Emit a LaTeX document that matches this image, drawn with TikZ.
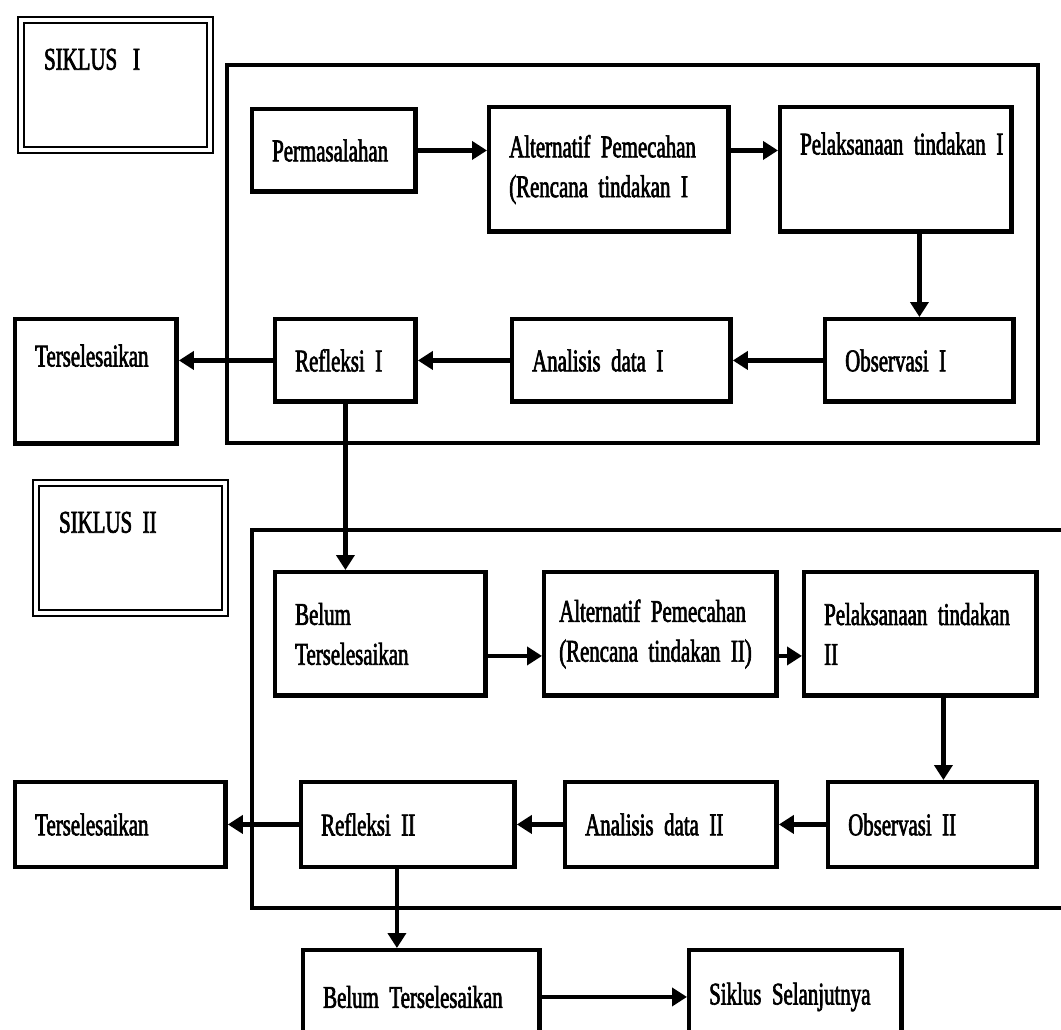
\documentclass[tikz,border=0pt]{standalone}
\usepackage{fontspec}
\setmainfont[FakeStretch=0.66,FakeBold=2]{Liberation Serif}
\usetikzlibrary{arrows.meta}
\newcommand\boxfont{\fontsize{18}{22.7}\selectfont\spaceskip=3.5pt plus 1pt minus 1pt\relax}

\begin{document}
\begin{tikzpicture}[x=0.02cm,y=-0.02cm,
  every node/.style={font=\boxfont},
  stage/.style={draw,line width=2.5pt,anchor=north west,inner xsep=0.4cm,inner ysep=0pt,align=left},
  siklus/.style={draw,double,double distance=0.08cm,line width=1.3pt,anchor=north west,inner xsep=0.46cm,inner ysep=0pt,align=left,text width=2.86cm,minimum height=2.6cm},
  frame/.style={line width=2pt},
  flow/.style={line width=2.4pt,-{Triangle[length=0.3cm,width=0.36cm]}}]
\useasboundingbox (0,0) rectangle (1061,1029);

\draw[frame] (227,65) rectangle (1038,443);
\draw[frame] (1070,530) -- (252,530) -- (252,908) -- (1070,908);

\node[siklus] (sik1) at (20,19) {SIKLUS\hspace{9pt}I\\\strut};
\node[siklus] (sik2) at (35,482) {SIKLUS II\\\strut};

\node[stage,text width=2.47cm,minimum height=1.65cm] (perm) at (250,107) {Permasalahan};
\node[stage,text width=3.99cm,minimum height=2.49cm] (alt1) at (487,105) {\mbox{Alternatif Pemecahan}\\\mbox{(Rencana tindakan I}};
\node[stage,text width=3.83cm,minimum height=2.49cm] (pel1) at (778,105) {\mbox{Pelaksanaan tindakan I}\\\strut};

\node[stage,text width=2.43cm,minimum height=2.49cm] (ters1) at (13,317) {Terselesaikan\\\strut};
\node[stage,text width=2.01cm,minimum height=1.65cm] (ref1) at (273,317) {Refleksi I};
\node[stage,text width=3.57cm,minimum height=1.65cm] (ana1) at (510,317) {Analisis data I};
\node[stage,text width=2.97cm,minimum height=1.65cm] (obs1) at (823,317) {Observasi I};

\node[stage,text width=3.41cm,minimum height=2.47cm] (belum1) at (273,570) {Belum\\Terselesaikan};
\node[stage,inner xsep=0.3cm,text width=4.05cm,minimum height=2.47cm] (alt2) at (542,570) {\mbox{Alternatif Pemecahan}\\\mbox{(Rencana tindakan II)}};
\node[stage,text width=3.85cm,minimum height=2.47cm] (pel2) at (802,570) {\mbox{Pelaksanaan tindakan}\\II};

\node[stage,text width=3.41cm,minimum height=1.69cm] (ters2) at (13,780) {Terselesaikan};
\node[stage,text width=3.47cm,minimum height=1.69cm] (ref2) at (299,780) {Refleksi II};
\node[stage,text width=3.43cm,minimum height=1.69cm] (ana2) at (563,780) {Analisis data II};
\node[stage,text width=3.37cm,minimum height=1.69cm] (obs2) at (826,780) {Observasi II};

\node[stage,text width=3.93cm,minimum height=1.87cm] (belum2) at (301,948) {Belum Terselesaikan};
\node[stage,text width=3.45cm,minimum height=1.87cm] (next) at (687,948) {Siklus Selanjutnya};

\draw[flow] (perm.east) -- (perm.east -| alt1.west);
\draw[flow] (perm.east -| alt1.east) -- (perm.east -| pel1.west);
\draw[flow] (obs1.north |- pel1.south) -- (obs1.north);
\draw[flow] (obs1.west) -- (ana1.east);
\draw[flow] (ana1.west) -- (ref1.east);
\draw[flow] (ref1.west) -- (ref1.west -| ters1.east);
\draw[flow] (ref1.south) -- (ref1.south |- belum1.north);

\coordinate (mid2) at ([yshift=-0.44cm]belum1.east);
\draw[flow] (mid2) -- (mid2 -| alt2.west);
\draw[flow] (mid2 -| alt2.east) -- (mid2 -| pel2.west);
\coordinate (down2) at ([xshift=0.46cm]pel2.south);
\draw[flow] (down2) -- (down2 |- obs2.north);
\draw[flow] (obs2.west) -- (ana2.east);
\draw[flow] (ana2.west) -- (ref2.east);
\draw[flow] (ref2.west) -- (ref2.west -| ters2.east);
\coordinate (down3) at ([xshift=-0.22cm]ref2.south);
\draw[flow] (down3) -- (down3 |- belum2.north);
\draw[flow] (belum2.east) -- (next.west);
\end{tikzpicture}
\end{document}
